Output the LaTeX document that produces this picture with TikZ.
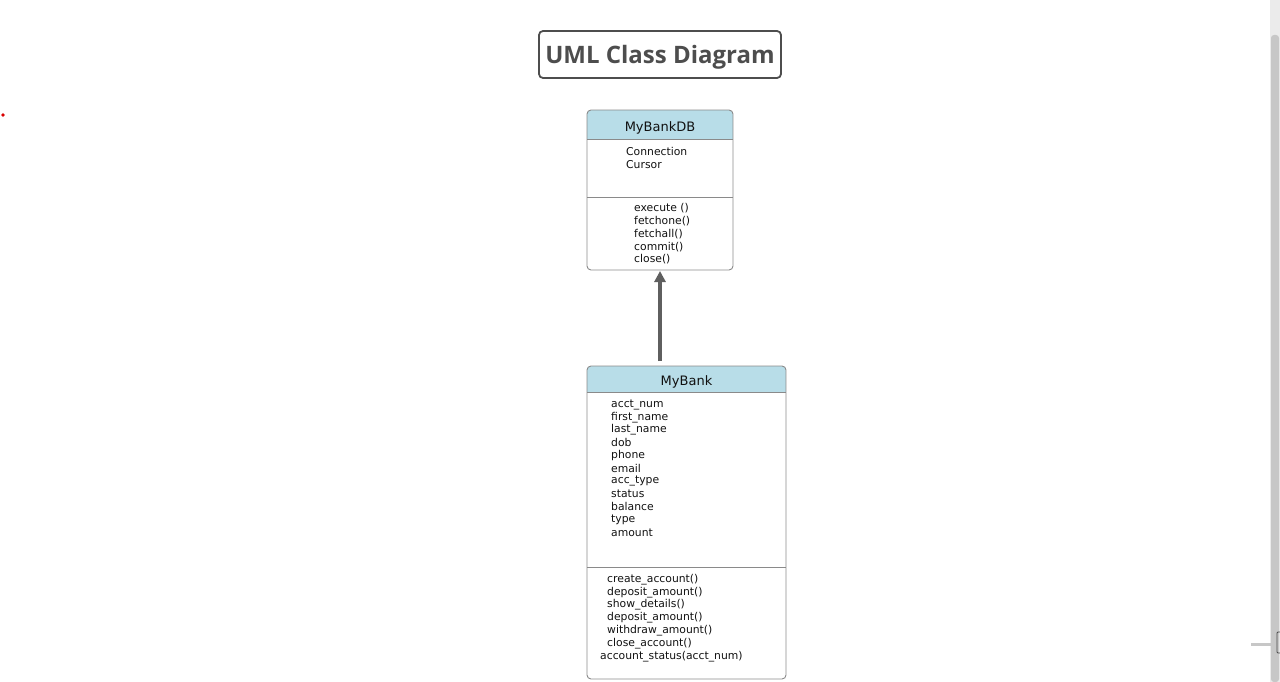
\documentclass[tikz,border=0pt]{standalone}
\usepackage{fontspec}
\setmainfont{DejaVu Sans}
\newfontfamily\titlefont{Open Sans}
\usetikzlibrary{arrows.meta}
\definecolor{hdr}{HTML}{B8DDE8}
\definecolor{bord}{HTML}{8A8A8A}
\definecolor{txt}{HTML}{111111}
\definecolor{ttl}{HTML}{4D4D4D}
\begin{document}
\begin{tikzpicture}[x=1pt,y=-1pt,
  classbox/.style={draw=bord,line width=0.9pt,rounded corners=4pt,fill=none},
  member/.style={anchor=west,inner sep=0pt,yshift=-1.5pt,text=txt,font=\fontsize{10.8}{12}\selectfont},
  header/.style={inner sep=0pt,yshift=-1.5pt,text=txt,font=\fontsize{13}{15}\selectfont},
  sep/.style={draw=bord,line width=0.9pt},
  inherit/.style={draw=ttl!90,line width=4.4pt,-{Triangle[length=11pt,width=11pt]}}]
\useasboundingbox (0,0) rectangle (1280,682);
% title
\node[draw=ttl,line width=1.8pt,rounded corners=4pt,minimum width=242pt,minimum height=47pt,inner sep=0pt] (title) at (660,54.5) {};
\node[inner sep=0pt,text=ttl,font=\titlefont\bfseries\fontsize{24}{26}\selectfont] (titletext) at (660,57.5) {UML Class Diagram};
% MyBankDB
\begin{scope}
\clip[rounded corners=4pt] (587,110) rectangle (733,270);
\fill[hdr] (587,110) rectangle (733,139);
\end{scope}
\node[classbox,minimum width=146pt,minimum height=160pt,inner sep=0pt] (db) at (660,190) {};
\draw[sep] (587,139) -- (733,139);
\draw[sep] (587,197) -- (733,197);
\node[header] (dbname) at (660,126) {MyBankDB};
\node[member] (a1) at (626,150) {Connection};
\node[member] (a2) at (626,163) {Cursor};
\node[member] (m1) at (634,207) {execute ()};
\node[member] (m2) at (634,220) {fetchone()};
\node[member] (m3) at (634,233) {fetchall()};
\node[member] (m4) at (634,246) {commit()};
\node[member] (m5) at (634,258) {close()};
% MyBank
\begin{scope}
\clip[rounded corners=4pt] (587,366) rectangle (786,679);
\fill[hdr] (587,366) rectangle (786,392);
\end{scope}
\node[classbox,minimum width=199pt,minimum height=313pt,inner sep=0pt] (bank) at (686.5,522.5) {};
\draw[sep] (587,392) -- (786,392);
\draw[sep] (587,567) -- (786,567);
\node[header] (bankname) at (686.5,380) {MyBank};
\node[member] (b1) at (611,403) {acct\_num};
\node[member] (b2) at (611,415.8) {first\_name};
\node[member] (b3) at (611,428.6) {last\_name};
\node[member] (b4) at (611,441.4) {dob};
\node[member] (b5) at (611,454.2) {phone};
\node[member] (b6) at (611,467) {email};
\node[member] (b7) at (611,479.8) {acc\_type};
\node[member] (b8) at (611,492.6) {status};
\node[member] (b9) at (611,505.4) {balance};
\node[member] (b10) at (611,518.2) {type};
\node[member] (b11) at (611,531) {amount};
\node[member] (c1) at (607,578) {create\_account()};
\node[member] (c2) at (607,590.8) {deposit\_amount()};
\node[member] (c3) at (607,603.6) {show\_details()};
\node[member] (c4) at (607,616.4) {deposit\_amount()};
\node[member] (c5) at (607,629.2) {withdraw\_amount()};
\node[member] (c6) at (607,642) {close\_account()};
\node[member] (c7) at (600,655) {account\_status(acct\_num)};
% inheritance arrow
\coordinate (from) at (660,361);
\coordinate (to) at (660,271);
\draw[inherit] (from) -- (to);
% page artifacts
\fill[red!85!black] (3,115) circle (1.8pt);
\fill[black!8] (1270,0) rectangle (1280,682);
\fill[black!22,rounded corners=3pt] (1271,35) rectangle (1279,682);
\fill[black!22] (1251,643) rectangle (1276,646);
\draw[black!70,line width=0.8pt,rounded corners=1pt] (1277,632) rectangle (1282,653);
\end{tikzpicture}
\end{document}
